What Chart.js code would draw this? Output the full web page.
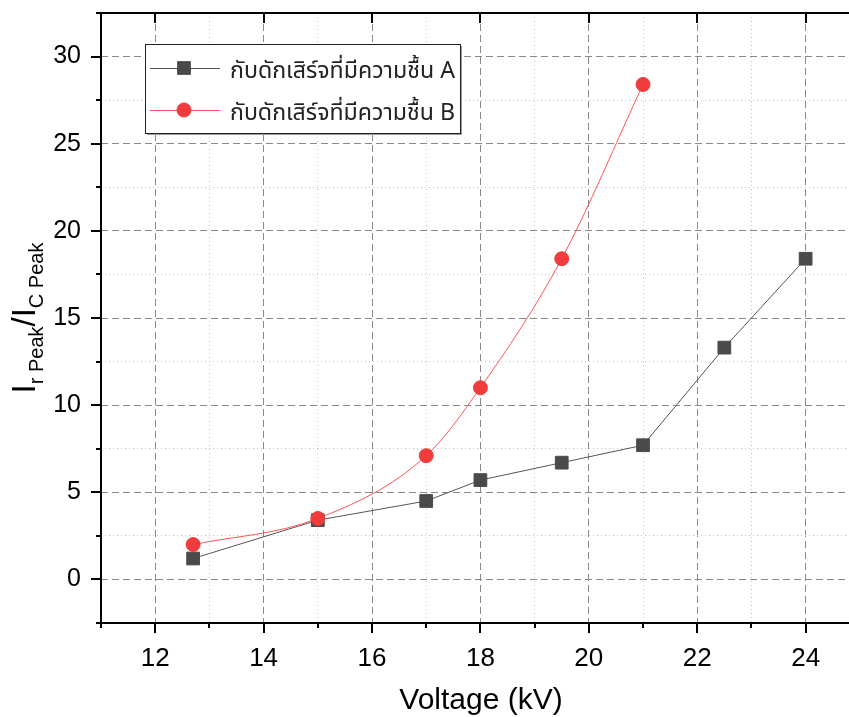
<!DOCTYPE html>
<html>
<head>
<meta charset="utf-8">
<script src="https://cdn.jsdelivr.net/npm/chart.js@4.4.0/dist/chart.umd.min.js"></script>
<style>
  html, body { margin: 0; padding: 0; background: #fff; }
  #chart { display: block; }
</style>
</head>
<body>
<canvas id="chart" width="849" height="717"></canvas>
<script>
// data
const voltageA = [12.7, 15, 17, 18, 19.5, 21, 22.5, 24];
const ratioA = [1.2, 3.4, 4.5, 5.7, 6.7, 7.7, 13.3, 18.4];
const voltageB = [12.7, 15, 17, 18, 19.5, 21];
const ratioB = [2.0, 3.5, 7.1, 11.0, 18.4, 28.4];
const seriesNames = ['กับดักเสิร์จที่มีความชื้น A', 'กับดักเสิร์จที่มีความชื้น B'];

// ticks (majors get labels, the rest are minor)
const xTicks = [11, 12, 13, 14, 15, 16, 17, 18, 19, 20, 21, 22, 23, 24];
const xMajor = [12, 14, 16, 18, 20, 22, 24];
const yTicks = [-2.5, 0, 2.5, 5, 7.5, 10, 12.5, 15, 17.5, 20, 22.5, 25, 27.5, 30, 32.5];
const yMajor = [0, 5, 10, 15, 20, 25, 30];

const xTitle = 'Voltage (kV)';

const colorA = '#4a4a4a';
const colorB = '#f03c3c';
const thaiFont = "'Noto Sans Thai', 'Tahoma', 'Leelawadee UI', 'Noto Sans', 'DejaVu Sans', sans-serif";

const toPoints = (xs, ys) => xs.map((x, i) => ({ x: x, y: ys[i] }));

const isMajorX = v => xMajor.includes(v);
const isMajorY = v => yMajor.includes(v);

// ticks, frame, legend and axis titles
const decorations = {
  id: 'decorations',
  afterDraw(chart) {
    const ctx = chart.ctx;
    const area = chart.chartArea;
    const xs = chart.scales.x;
    const ys = chart.scales.y;

    ctx.save();
    ctx.strokeStyle = '#000';
    ctx.lineWidth = 2;

    // bottom and top ticks
    xTicks.forEach(v => {
      const px = Math.round(xs.getPixelForValue(v));
      const major = isMajorX(v);
      ctx.beginPath();
      ctx.moveTo(px, area.bottom);
      ctx.lineTo(px, area.bottom + (major ? 10 : 5));
      ctx.stroke();
      if (major) {
        ctx.beginPath();
        ctx.moveTo(px, area.top);
        ctx.lineTo(px, area.top + 10);
        ctx.stroke();
      }
    });
    // left ticks
    yTicks.forEach(v => {
      const py = Math.round(ys.getPixelForValue(v));
      const major = isMajorY(v);
      ctx.beginPath();
      ctx.moveTo(area.left, py);
      ctx.lineTo(area.left - (major ? 10 : 5), py);
      ctx.stroke();
    });

    // frame (right side is cut off in the reference)
    ctx.beginPath();
    ctx.moveTo(chart.width, area.top);
    ctx.lineTo(area.left, area.top);
    ctx.lineTo(area.left, area.bottom);
    ctx.lineTo(chart.width, area.bottom);
    ctx.stroke();

    // legend box
    const lx = 145, ly = 44, lw = 315, lh = 89;
    ctx.fillStyle = '#9a9a9a';
    ctx.fillRect(lx + 2, ly + 2, lw, lh);
    ctx.fillStyle = '#fff';
    ctx.fillRect(lx, ly, lw, lh);
    ctx.lineWidth = 1;
    ctx.strokeStyle = '#222';
    ctx.strokeRect(lx + 0.5, ly + 0.5, lw, lh);

    const rows = [
      { y: 68, color: '#555', fill: colorA, style: 'rect', r: 9, text: seriesNames[0] },
      { y: 110, color: '#f55', fill: colorB, style: 'circle', r: 7, text: seriesNames[1] }
    ];
    rows.forEach(row => {
      ctx.strokeStyle = row.color;
      ctx.lineWidth = 1;
      ctx.beginPath();
      ctx.moveTo(150, row.y + 0.5);
      ctx.lineTo(220, row.y + 0.5);
      ctx.stroke();
      ctx.fillStyle = row.fill;
      ctx.strokeStyle = row.fill;
      Chart.helpers.drawPoint(ctx, { pointStyle: row.style, radius: row.r, rotation: 0, borderWidth: 1 }, 184, row.y);
      ctx.fillStyle = '#222';
      ctx.font = '23px ' + thaiFont;
      ctx.textBaseline = 'alphabetic';
      ctx.textAlign = 'left';
      const w = ctx.measureText(row.text).width;
      const target = 225;
      ctx.save();
      ctx.translate(230, row.y + 10);
      ctx.scale(Math.min(1.2, target / w), 1);
      ctx.fillText(row.text, 0, 0);
      ctx.restore();
    });

    // x title
    ctx.fillStyle = '#000';
    ctx.font = '30px "Liberation Sans", Arial, sans-serif';
    ctx.textAlign = 'center';
    ctx.textBaseline = 'alphabetic';
    ctx.fillText(xTitle, 481, 709);

    // y title with subscripts, rotated
    ctx.save();
    ctx.rotate(-Math.PI / 2);
    ctx.textAlign = 'left';
    const big = '33px "Liberation Sans", Arial, sans-serif';
    const small = '20px "Liberation Sans", Arial, sans-serif';
    const parts = [
      { t: 'I', f: big, b: 35 },
      { t: 'r Peak', f: small, b: 43 },
      { t: '/', f: big, b: 35 },
      { t: 'I', f: big, b: 35 },
      { t: 'C Peak', f: small, b: 43 }
    ];
    let total = 0;
    parts.forEach(p => { ctx.font = p.f; p.w = ctx.measureText(p.t).width; total += p.w; });
    let cur = -(318 + total / 2);
    parts.forEach(p => {
      ctx.font = p.f;
      ctx.fillText(p.t, cur, p.b);
      cur += p.w;
    });
    ctx.restore();

    ctx.restore();
  }
};

const noScalePadding = s => {
  s.paddingTop = 0;
  s.paddingBottom = 0;
  s.paddingLeft = 0;
  s.paddingRight = 0;
};

new Chart(document.getElementById('chart'), {
  type: 'scatter',
  data: {
    datasets: [
      {
        label: seriesNames[0],
        data: toPoints(voltageA, ratioA),
        showLine: true,
        borderColor: '#555',
        borderWidth: 1,
        pointStyle: 'rect',
        pointRadius: 9,
        pointHoverRadius: 9,
        pointBackgroundColor: colorA,
        pointBorderColor: colorA,
        pointBorderWidth: 1,
        order: 2
      },
      {
        label: seriesNames[1],
        data: toPoints(voltageB, ratioB),
        showLine: true,
        cubicInterpolationMode: 'monotone',
        borderColor: '#f55',
        borderWidth: 1,
        pointStyle: 'circle',
        pointRadius: 7,
        pointHoverRadius: 7,
        pointBackgroundColor: colorB,
        pointBorderColor: colorB,
        pointBorderWidth: 1,
        order: 1
      }
    ]
  },
  options: {
    responsive: false,
    animation: false,
    devicePixelRatio: 1,
    layout: { autoPadding: false, padding: { top: 13, left: 0, right: 0, bottom: 0 } },
    plugins: {
      legend: { display: false },
      tooltip: { enabled: false }
    },
    scales: {
      x: {
        type: 'linear',
        min: 11,
        max: 24.8,
        afterFit: s => { s.height = 94; noScalePadding(s); },
        afterBuildTicks: s => { s.ticks = xTicks.map(v => ({ value: v })); },
        grid: {
          drawTicks: false,
          color: c => isMajorX(c.tick.value) ? '#8a8a8a' : '#c4c4c4',
          lineWidth: 1
        },
        border: {
          display: false,
          dash: c => isMajorX(c.tick.value) ? [7, 4] : [1, 3]
        },
        ticks: {
          autoSkip: false,
          maxRotation: 0,
          padding: 20,
          color: '#000',
          font: { family: '"Liberation Sans", Arial, sans-serif', size: 26 },
          callback: v => isMajorX(v) ? String(v) : ''
        }
      },
      y: {
        type: 'linear',
        min: -2.5,
        max: 32.5,
        afterFit: s => { s.width = 101; noScalePadding(s); },
        afterBuildTicks: s => { s.ticks = yTicks.map(v => ({ value: v })); },
        grid: {
          drawTicks: false,
          color: c => isMajorY(c.tick.value) ? '#8a8a8a' : '#c4c4c4',
          lineWidth: 1
        },
        border: {
          display: false,
          dash: c => isMajorY(c.tick.value) ? [7, 4] : [1, 3]
        },
        ticks: {
          autoSkip: false,
          padding: 20,
          color: '#000',
          font: { family: '"Liberation Sans", Arial, sans-serif', size: 25 },
          callback: v => isMajorY(v) ? String(v) : ''
        }
      }
    }
  },
  plugins: [decorations]
});
</script>
</body>
</html>
